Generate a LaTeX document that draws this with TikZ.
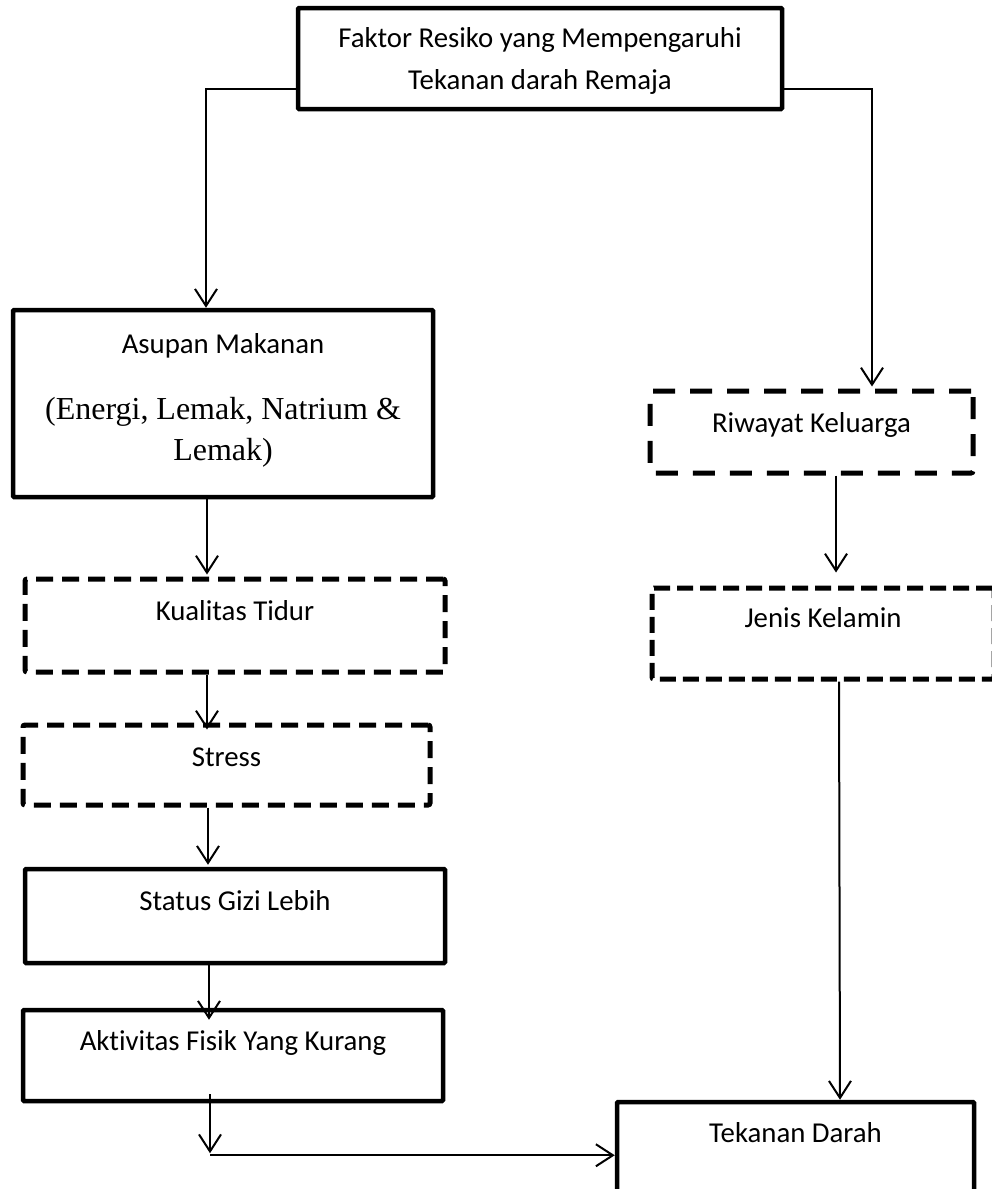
\documentclass[tikz,border=0pt]{standalone}
\usepackage{fontspec}
\setmainfont{Carlito}[Ligatures=NoCommon]
\newfontfamily\timesfont{Liberation Serif}
\usetikzlibrary{arrows.meta}
\begin{document}
\begin{tikzpicture}[x=1pt,y=-1pt,
  solidbox/.style={draw=black,line width=4.5pt,rounded corners=1pt,inner sep=0pt},
  dashbox/.style={draw=black,line width=5pt,dash pattern=on 17pt off 9pt,rounded corners=2pt,inner sep=0pt},
  longdash/.style={dash pattern=on 22pt off 15pt},
  label/.style={anchor=base,inner sep=0pt,font=\fontsize{28.8}{44}\selectfont},
  tlabel/.style={anchor=base,inner sep=0pt,font=\timesfont\fontsize{32}{42}\selectfont},
  conn/.style={draw=black,line width=2pt,-{Straight Barb[length=17pt,width=22pt]}}
]
\useasboundingbox[fill=white] (0,0) rectangle (992,1189);

% boxes
\node[solidbox,minimum width=484pt,minimum height=101pt] (top) at (540,58.5) {};
\node[solidbox,minimum width=420pt,minimum height=187pt] (asupan) at (223,403.5) {};
\node[dashbox,minimum width=420pt,minimum height=93pt] (kualitas) at (235,625.5) {};
\node[dashbox,minimum width=407pt,minimum height=80pt] (stress) at (226.5,765) {};
\node[solidbox,minimum width=420pt,minimum height=94pt] (status) at (235,916) {};
\node[solidbox,minimum width=420pt,minimum height=91pt] (aktivitas) at (233,1055.5) {};
\node[solidbox,minimum width=357pt,minimum height=128pt] (tekanan) at (795.5,1166) {};
\node[dashbox,longdash,minimum width=323pt,minimum height=82pt] (riwayat) at (811.5,432) {};
\node[dashbox,dash pattern=on 16pt off 7pt,minimum width=342pt,minimum height=91pt] (jenis) at (823,633.5) {};

% texts
\node[label] (topA) at (540,47) {Faktor Resiko yang Mempengaruhi};
\node[label] (topB) at (540,89) {Tekanan darah Remaja};
\node[label] (asupanA) at (223,353) {Asupan Makanan};
\node[tlabel] (asupanB) at (223,419) {(Energi, Lemak, Natrium \&};
\node[tlabel] (asupanC) at (223,460) {Lemak)};
\node[label] (kualitasT) at (235,620) {Kualitas Tidur};
\node[label] (stressT) at (226.5,766) {Stress};
\node[label] (statusT) at (235,910) {Status Gizi Lebih};
\node[label] (aktivitasT) at (233,1050) {Aktivitas Fisik Yang Kurang};
\node[label] (tekananT) at (795.5,1142) {Tekanan Darah};
\node[label] (riwayatT) at (811.5,432) {Riwayat Keluarga};
\node[label] (jenisT) at (823,627) {Jenis Kelamin};

% connector ports
\coordinate (topL) at ([yshift=22pt]top.south west);
\coordinate (topR) at ([yshift=22pt]top.south east);
\coordinate (asupanIn) at ([xshift=-17pt]asupan.north);
\coordinate (riwayatIn) at ([xshift=60.5pt,yshift=2pt]riwayat.north);
\coordinate (asupanOut) at ([xshift=-16pt]asupan.south);
\coordinate (kualitasIn) at ([xshift=-28pt,yshift=2pt]kualitas.north);
\coordinate (kualitasOut) at ([xshift=-28pt]kualitas.south);
\coordinate (stressIn) at ([xshift=-19.5pt,yshift=-7pt]stress.north);
\coordinate (stressOut) at ([xshift=-18.5pt]stress.south);
\coordinate (statusIn) at ([xshift=-27pt,yshift=2pt]status.north);
\coordinate (statusOut) at ([xshift=-26pt]status.south);
\coordinate (aktivitasIn) at ([xshift=-24pt,yshift=-12pt]aktivitas.north);
\coordinate (aktivitasOut) at ([xshift=-23pt,yshift=9pt]aktivitas.south);
\coordinate (elbow) at ([yshift=-59pt]aktivitasOut);
\coordinate (riwayatOut) at ([xshift=24.5pt]riwayat.south);
\coordinate (jenisIn) at ([xshift=13pt,yshift=13pt]jenis.north);
\coordinate (jenisOut) at ([xshift=16pt]jenis.south);
\coordinate (tekananIn) at ([xshift=44.5pt]tekanan.north);

% connectors
\draw[conn] (topL) -| (asupanIn);
\draw[conn] (topR) -| (riwayatIn);
\draw[conn] (asupanOut) -- (kualitasIn);
\draw[conn] (kualitasOut) -- (stressIn);
\draw[conn] (stressOut) -- (statusIn);
\draw[conn] (statusOut) -- (aktivitasIn);
\draw[conn] (aktivitasOut) -- (elbow);
\draw[conn] ([yshift=-2pt]elbow) -- ([yshift=-2pt]elbow -| tekanan.west);
\draw[conn] (riwayatOut) -- (jenisIn);
\draw[conn] (jenisOut) -- (tekananIn);
\end{tikzpicture}
\end{document}
